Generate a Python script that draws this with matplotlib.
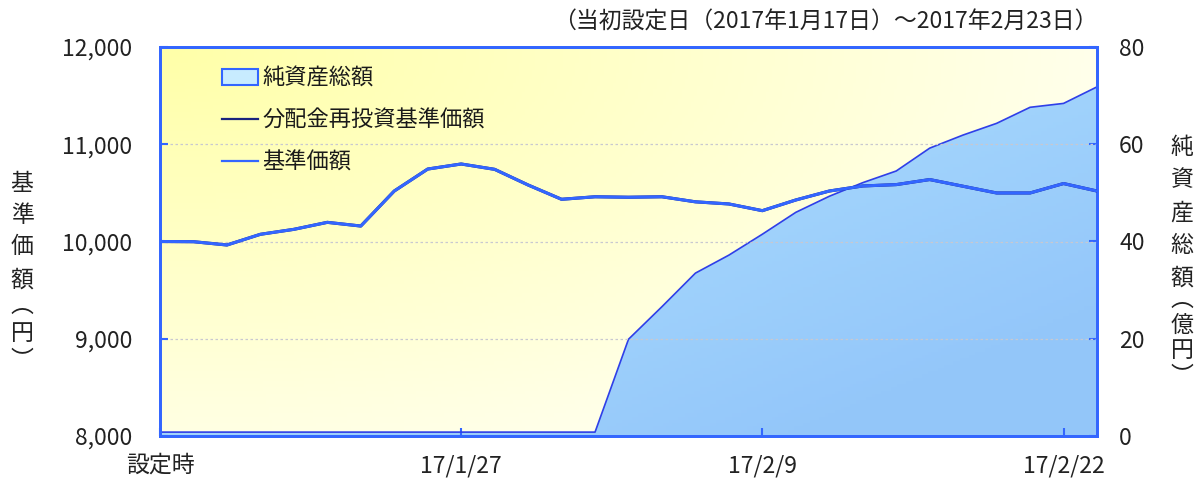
import numpy as np
import matplotlib
matplotlib.use("Agg")
import matplotlib.pyplot as plt
from matplotlib.patches import Patch
from matplotlib.lines import Line2D

plt.rcParams['font.family'] = ['Noto Sans CJK JP', 'DejaVu Sans']

# データ（設定時～2017/2/23）
nav = [10000, 9998, 9964, 10074, 10125, 10197, 10159, 10519, 10745, 10797,
       10742, 10581, 10434, 10460, 10455, 10460, 10408, 10386, 10317, 10427,
       10519, 10571, 10585, 10637, 10568, 10499, 10499, 10596, 10519]
nav_reinv = nav[:]  # 分配なし → 基準価額と同じ
net_assets = [0.8, 0.8, 0.8, 0.8, 0.8, 0.8, 0.8, 0.8, 0.8, 0.8,
              0.8, 0.8, 0.8, 0.8, 19.9, 26.6, 33.5, 37.2, 41.5, 46.0,
              49.3, 52.1, 54.5, 59.2, 61.9, 64.3, 67.6, 68.4, 71.8]
tick_pos = [0, 9, 18, 27]
tick_labels = ['設定時', '17/1/27', '17/2/9', '17/2/22']

blue = '#3366ff'
fs = 16.5
x = np.arange(len(nav))

fig = plt.figure(figsize=(11.99, 4.82), dpi=100)
ax2 = fig.add_axes([160/1199, 46/482, 937/1199, 389/482])
ax = ax2.twinx()
# 左軸を前面に
ax.yaxis.tick_left()
ax.yaxis.set_label_position('left')
ax2.yaxis.tick_right()
ax.set_zorder(ax2.get_zorder() + 1)
ax.patch.set_visible(False)

# 背景グラデーション（左上が黄色）
gx, gy = np.meshgrid(np.linspace(0, 1, 300), np.linspace(0, 1, 120))
t = np.clip(np.sqrt((gx * 0.9) ** 2 + (gy * 0.8) ** 2), 0, 1)
c0 = np.array([1.0, 1.0, 0.66])
c1 = np.array([1.0, 1.0, 0.95])
bg = c0[None, None, :] * (1 - t[..., None]) + c1[None, None, :] * t[..., None]
ax2.imshow(bg, extent=[0, 1, 0, 1], transform=ax2.transAxes, aspect='auto',
           origin='upper', zorder=0)

# 純資産総額（グラデーション塗り）
poly = ax2.fill_between(x, net_assets, 0, facecolor='none', edgecolor='none', zorder=1)
fx, fy = np.meshgrid(np.linspace(0, 1, 300), np.linspace(0, 1, 120))
s = np.clip((fx * 0.6 + fy * 0.6), 0, 1)
f0 = np.array([0.72, 0.91, 1.0])
f1 = np.array([0.58, 0.78, 0.98])
fg = f0[None, None, :] * (1 - s[..., None]) + f1[None, None, :] * s[..., None]
im = ax2.imshow(fg, extent=[0, 1, 0, 1], transform=ax2.transAxes, aspect='auto',
                origin='upper', zorder=1)
im.set_clip_path(poly.get_paths()[0], transform=ax2.transData)
ax2.plot(x, net_assets, color='#2f3fe8', lw=1.2, zorder=2)

ax2.set_xlim(0, len(nav) - 1)
ax2.set_ylim(0, 80)
ax2.set_yticks([0, 20, 40, 60, 80])

# 基準価額
ax.plot(x, nav_reinv, color='#1a237e', lw=2.2, zorder=3)
ax.plot(x, nav, color='#3366ff', lw=2.2, zorder=4)
ax.set_ylim(8000, 12000)
ax.set_yticks([8000, 9000, 10000, 11000, 12000])
ax.set_yticklabels(['8,000', '9,000', '10,000', '11,000', '12,000'])
for v in [9000, 10000, 11000]:
    ax.axhline(v, color='#c8c8d0', lw=0.9, ls=(0, (2, 2)), zorder=1)

ax2.set_xticks(tick_pos)
ax2.set_xticklabels(tick_labels)

for a in (ax, ax2):
    for sp in a.spines.values():
        sp.set_color(blue)
        sp.set_linewidth(2.0)
ax2.tick_params(axis='x', direction='in', length=6, width=1.5, color=blue,
                labelsize=fs, labelcolor='#222222', pad=13)
ax2.tick_params(axis='y', direction='in', length=6, width=1.5, color=blue,
                labelsize=fs, labelcolor='#222222', pad=16)
ax.tick_params(axis='y', direction='in', length=6, width=1.5, color=blue,
               labelsize=fs, labelcolor='#222222', pad=20)

# 凡例
handles = [Patch(facecolor='#c8ecff', edgecolor=blue, lw=1.5),
           Line2D([], [], color='#1a237e', lw=1.6),
           Line2D([], [], color='#3366ff', lw=1.6)]
labels = ['純資産総額', '分配金再投資基準価額', '基準価額']
leg = ax.legend(handles, labels, loc='upper left', bbox_to_anchor=(0.045, 1.0),
                frameon=False, fontsize=16, labelspacing=0.85, handlelength=1.6,
                handletextpad=0.2, handleheight=0.7)
for txt in leg.get_texts():
    txt.set_color('#1a1a1a')

# タイトル
fig.text(1098/1199, 1 - 22/482, '（当初設定日（2017年1月17日）～2017年2月23日）',
         ha='right', va='center', fontsize=fs, color='#222222')

# 縦書き軸ラベル
left_chars = ['基', '準', '価', '額']
left_y = [183, 215, 247, 280]
for ch, yy in zip(left_chars, left_y):
    fig.text(22/1199, 1 - yy/482, ch, ha='center', va='center', fontsize=fs, color='#222222')
fig.text(22/1199, 1 - 333/482, '︵\n円\n︶', ha='center', va='center', fontsize=fs,
         color='#222222', linespacing=1.25)
right_chars = ['純', '資', '産', '総', '額']
right_y = [147, 180, 213, 246, 278]
for ch, yy in zip(right_chars, right_y):
    fig.text(1182/1199, 1 - yy/482, ch, ha='center', va='center', fontsize=fs, color='#222222')
fig.text(1182/1199, 1 - 338/482, '︵\n億\n円\n︶', ha='center', va='center', fontsize=fs,
         color='#222222', linespacing=1.15)

fig.savefig('out.png', dpi=100)
